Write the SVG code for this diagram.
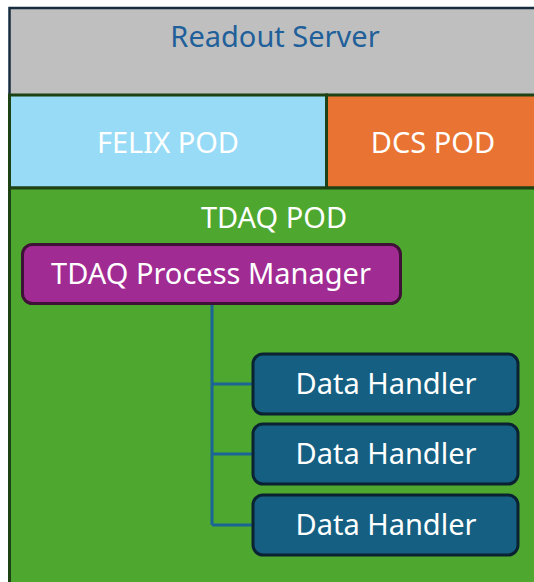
<svg xmlns="http://www.w3.org/2000/svg" width="534" height="582" viewBox="0 0 534 582">
  <style>
    text { font-family: "Noto Sans", "Liberation Sans", sans-serif; text-anchor: middle; font-size: 29px; }
    .pod { stroke: #1d4314; stroke-width: 3; }
    .lbl { fill: #ffffff; }
    .pm { fill: #a02b93; stroke: #3e1136; stroke-width: 3; }
    .dh { fill: #155f82; stroke: #0b2233; stroke-width: 3; }
    .wire { fill: none; stroke: #1a6496; stroke-width: 3; }
  </style>

  <g id="readout-server">
    <rect x="9.5" y="8" width="540" height="600" fill="#bfbfbf" stroke="#172c3f" stroke-width="2.5"/>
    <text x="275" y="47" fill="#215f9a">Readout Server</text>
  </g>

  <g id="felix-pod">
    <rect class="pod" x="9.5" y="95" width="317" height="93" fill="#97dbf6"/>
    <text class="lbl" x="168" y="153">FELIX POD</text>
  </g>

  <g id="dcs-pod">
    <rect class="pod" x="326.5" y="95" width="230" height="93" fill="#e97332"/>
    <text class="lbl" x="433" y="153">DCS POD</text>
  </g>

  <g id="tdaq-pod">
    <rect class="pod" x="9.5" y="188" width="540" height="420" fill="#4ea72e"/>
    <text class="lbl" x="274" y="228">TDAQ POD</text>
  </g>

  <g id="connectors">
    <path class="wire" d="M212 305 V525 M212 384 H253 M212 454 H253 M212 525 H253"/>
  </g>

  <g id="process-manager">
    <rect class="pm" x="22.5" y="244.5" width="378" height="59" rx="10"/>
    <text class="lbl" x="211" y="284">TDAQ Process Manager</text>
  </g>

  <g id="data-handler-1">
    <rect class="dh" x="253" y="354" width="265" height="60" rx="10"/>
    <text class="lbl" x="386" y="394">Data Handler</text>
  </g>

  <g id="data-handler-2">
    <rect class="dh" x="253" y="424" width="265" height="60" rx="10"/>
    <text class="lbl" x="386" y="464">Data Handler</text>
  </g>

  <g id="data-handler-3">
    <rect class="dh" x="253" y="495" width="265" height="60" rx="10"/>
    <text class="lbl" x="386" y="535">Data Handler</text>
  </g>
</svg>
